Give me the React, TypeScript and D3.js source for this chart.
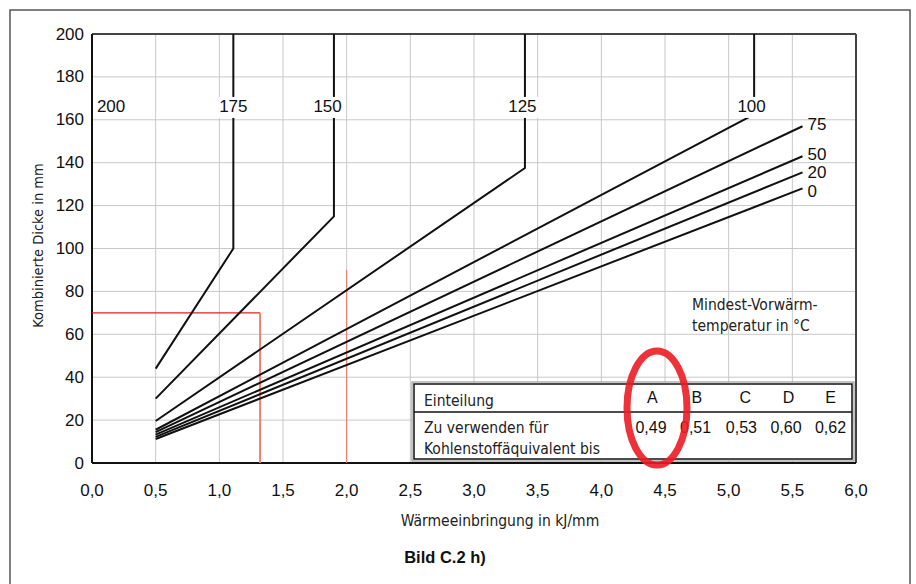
import React from "react";
import * as d3 from "d3";

// preheat curves: [Wärmeeinbringung kJ/mm, Dicke mm]
const curve175 = [[0.5, 44], [1.11, 100], [1.11, 200]];
const curve150 = [[0.5, 30], [1.9, 115], [1.9, 200]];
const curve125 = [[0.5, 19.6], [3.4, 137.5], [3.4, 200]];
const curve100 = [[0.5, 15.5], [5.2, 162.5], [5.2, 200]];
const curve75 = [[0.5, 14.4], [5.58, 157]];
const curve50 = [[0.5, 13.2], [5.58, 143]];
const curve20 = [[0.5, 12.2], [5.58, 135.5]];
const curve0 = [[0.5, 11.2], [5.58, 128]];

const curves = [curve175, curve150, curve125, curve100, curve75, curve50, curve20, curve0];

// top labels (on vertical parts) and right-end labels
const topLabels = [
  { t: "200", x: 0.15 },
  { t: "175", x: 1.11 },
  { t: "150", x: 1.85 },
  { t: "125", x: 3.38 },
  { t: "100", x: 5.18 },
];
const endLabels = [
  { t: "75", y: 158 },
  { t: "50", y: 144 },
  { t: "20", y: 135.5 },
  { t: "0", y: 126.5 },
];

const xTicks = [0, 0.5, 1, 1.5, 2, 2.5, 3, 3.5, 4, 4.5, 5, 5.5, 6];
const yTicks = [0, 20, 40, 60, 80, 100, 120, 140, 160, 180, 200];

const classes = ["A", "B", "C", "D", "E"];
const ceValues = ["0,49", "0,51", "0,53", "0,60", "0,62"];
const classX = [4.4, 4.75, 5.13, 5.47, 5.8];
const ceX = [4.39, 4.74, 5.1, 5.45, 5.8];

const W = 916, H = 584;
const margin = { left: 92, right: 60, top: 34, bottom: 121 };

const condensed = "'Liberation Sans Narrow', 'DejaVu Sans Condensed', sans-serif";
const sans = "'Liberation Sans', Arial, Helvetica, sans-serif";

export default function App() {
  const x = d3.scaleLinear().domain([0, 6]).range([margin.left, W - margin.right]);
  const y = d3.scaleLinear().domain([0, 200]).range([H - margin.bottom, margin.top]);
  const line = d3.line<number[]>().x((d) => x(d[0])).y((d) => y(d[1]));

  const fmt = (v: number) => v.toFixed(1).replace(".", ",");

  // table box
  const tx0 = 414, tx1 = 852, ty0 = 384, ty1 = 459, tyMid = 412;

  return (
    <svg width={W} height={H} style={{ position: "absolute", left: 0, top: 0, background: "#fff" }}>
      <rect x={10} y={10} width={900} height={H + 20} fill="none" stroke="#555" strokeWidth={1.5} />

      {/* grid */}
      <g stroke="#c8c8c8" strokeWidth={1}>
        {xTicks.slice(1, -1).map((t) => (
          <line key={"gx" + t} x1={x(t)} x2={x(t)} y1={y(0)} y2={y(200)} />
        ))}
        {yTicks.slice(1, -1).map((t) => (
          <line key={"gy" + t} x1={x(0)} x2={x(6)} y1={y(t)} y2={y(t)} />
        ))}
      </g>

      {/* plot frame */}
      <line x1={x(0)} x2={x(6)} y1={y(200)} y2={y(200)} stroke="#444" strokeWidth={2} />
      <line x1={x(6)} x2={x(6)} y1={y(200)} y2={y(0)} stroke="#444" strokeWidth={2} />
      <line x1={x(0)} x2={x(0)} y1={y(200)} y2={y(0)} stroke="#111" strokeWidth={2} />
      <line x1={x(0)} x2={x(6)} y1={y(0)} y2={y(0)} stroke="#111" strokeWidth={2} />

      {/* reading lines */}
      <line x1={x(2)} x2={x(2)} y1={y(90)} y2={y(0)} stroke="#f07060" strokeWidth={1} />
      <line x1={x(0)} x2={x(1.32)} y1={y(70)} y2={y(70)} stroke="#e02020" strokeWidth={1.2} />
      <line x1={x(1.32)} x2={x(1.32)} y1={y(70)} y2={y(0)} stroke="#f08070" strokeWidth={2} />

      {/* curves */}
      {curves.map((c, i) => (
        <path key={"c" + i} d={line(c) || ""} fill="none" stroke="#111" strokeWidth={2} strokeLinejoin="miter" />
      ))}

      {/* curve labels */}
      <g fontFamily={sans} fontSize={17} fill="#111">
        {topLabels.map((l) => (
          <g key={"tl" + l.t}>
            <rect x={x(l.x) - 18} y={y(166) - 10} width={36} height={21} fill="#fff" />
            <text x={x(l.x)} y={y(166)} textAnchor="middle" dominantBaseline="central">{l.t}</text>
          </g>
        ))}
        {endLabels.map((l) => (
          <text key={"el" + l.t} x={x(5.58) + 5} y={y(l.y)} dominantBaseline="central">{l.t}</text>
        ))}
      </g>

      {/* axis ticks */}
      <g fontFamily={sans} fontSize={17} fill="#111">
        {yTicks.map((t) => (
          <text key={"yt" + t} x={x(0) - 8} y={y(t)} textAnchor="end" dominantBaseline="central">{t}</text>
        ))}
        {xTicks.map((t) => (
          <text key={"xt" + t} x={x(t)} y={y(0) + 27} textAnchor="middle" dominantBaseline="central">{fmt(t)}</text>
        ))}
      </g>

      {/* axis titles */}
      <text x={500} y={521} textAnchor="middle" dominantBaseline="central" fontFamily={condensed} fontSize={15.5} fill="#222">
        Wärmeeinbringung in kJ/mm
      </text>
      <text transform={`translate(38, ${y(100) - 3}) rotate(-90)`} textAnchor="middle" dominantBaseline="central" fontFamily={condensed} fontSize={14.5} fill="#222">
        Kombinierte Dicke in mm
      </text>

      {/* note */}
      <g fontFamily={condensed} fontSize={15.5} fill="#222">
        <text x={692} y={305} dominantBaseline="central">Mindest-Vorwärm-</text>
        <text x={692} y={326} dominantBaseline="central">temperatur in °C</text>
      </g>

      {/* table */}
      <rect x={tx0 - 2} y={ty0 - 2} width={tx1 - tx0 + 4} height={ty1 - ty0 + 4} fill="#fff" stroke="#888" strokeWidth={1} />
      <rect x={tx0} y={ty0} width={tx1 - tx0} height={ty1 - ty0} fill="#fff" stroke="#111" strokeWidth={1.5} />
      <line x1={tx0} x2={tx1} y1={tyMid} y2={tyMid} stroke="#111" strokeWidth={1.5} />
      <g fontFamily={condensed} fontSize={15.5} fill="#222">
        <text x={424} y={401} dominantBaseline="central">Einteilung</text>
        <text x={424} y={428} dominantBaseline="central">Zu verwenden für</text>
        <text x={424} y={449} dominantBaseline="central">Kohlenstoffäquivalent bis</text>
      </g>
      <g fontFamily={sans} fontSize={16} fill="#111">
        {classes.map((c, i) => (
          <text key={"cl" + c} x={x(classX[i])} y={397} textAnchor="middle" dominantBaseline="central">{c}</text>
        ))}
        {ceValues.map((v, i) => (
          <text key={"ce" + v} x={x(ceX[i])} y={427} textAnchor="middle" dominantBaseline="central">{v}</text>
        ))}
      </g>

      {/* hand-drawn highlight */}
      <ellipse cx={657} cy={408} rx={30} ry={57} fill="none" stroke="#ec1c24" strokeWidth={7} opacity={0.9} />

      <text x={445} y={557} textAnchor="middle" dominantBaseline="central" fontFamily={sans} fontWeight="bold" fontSize={16.5} fill="#111">
        Bild C.2 h)
      </text>
    </svg>
  );
}
